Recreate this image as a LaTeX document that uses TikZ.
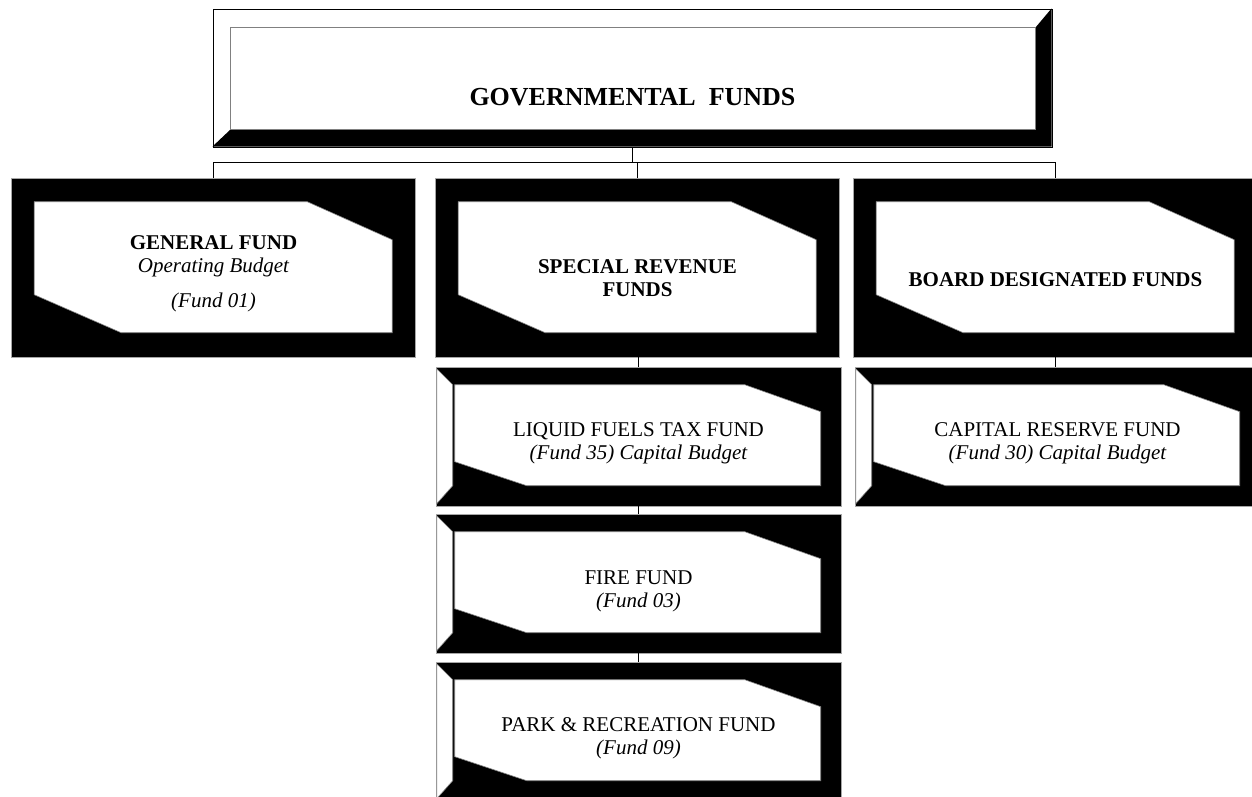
\documentclass[tikz,border=0pt]{standalone}
\usepackage{fontspec}
\setmainfont{Liberation Serif}

\newcommand{\linThick }{1pt}
\newcommand{\bevThick }{0.6pt}
\newcommand{\boxFont  }{\fontsize{21}{23}\selectfont}
\newcommand{\titleFont}{\fontsize{26}{30}\selectfont\bfseries}
\newcommand{\busDrop  }{15}

\tikzset{
  govbox/.style  ={rectangle, draw=black, fill=white, line width=\linThick, inner sep=0pt,
                   minimum width=839pt, minimum height=138pt},
  onebox/.style  ={rectangle, draw=gray!70, fill=black, line width=\bevThick, inner sep=0pt,
                   minimum width=404pt, minimum height=179pt},
  twobox/.style  ={rectangle, draw=gray!70, fill=black, line width=\bevThick, inner sep=0pt,
                   minimum width=405pt, minimum height=139pt},
  bevel/.style   ={fill=white, draw=gray, line width=\bevThick},
  fundtext/.style={align=center, inner sep=0pt, font=\boxFont},
  link/.style    ={draw=black, line width=\linThick},
}

\begin{document}
\begin{tikzpicture}[x=1pt, y=-1pt]

  \useasboundingbox (0,0) rectangle (1252,796);

  % Top box:
  \node[govbox] (govern) at (632.5, 78) {};
  \path[fill=black, shift={(govern.north west)}] (0,138) -- (18,121) -- (823,121) -- (823,19) -- (839,0) -- (839,138) -- cycle;
  \draw[gray, line width=\bevThick, shift={(govern.north west)}] (18,19) rectangle (823,121);

  % First row:
  \node[onebox] (general) at ( 213.5, 267.5) {};
  \node[onebox] (special) at ( 637.5, 267.5) {};
  \node[onebox] (board)   at (1055.5, 267.5) {};
  \foreach \b in {general,special,board}
    \path[bevel, shift={(\b.north west)}] (23,24) -- (296,24) -- (381,62) -- (381,155) -- (110,155) -- (23,117) -- cycle;

  % Second row:
  \node[twobox] (liquid)  at ( 638.5, 436.5) {};
  \node[twobox] (fire)    at ( 638.5, 583.5) {};
  \node[twobox] (park)    at ( 638.5, 731.5) {};
  \node[twobox] (capital) at (1057.5, 436.5) {};
  \foreach \b in {liquid,fire,park,capital}{
    % Side:
    \path[bevel, shift={(\b.north west)}] (1,2) -- (17,18) -- (17,119) -- (1,137) -- cycle;
    % Face:
    \path[bevel, shift={(\b.north west)}] (19,18) -- (309,18) -- (385,45) -- (385,119) -- (91,119) -- (19,95) -- cycle;
  }

  % Links:
  \draw[link] (govern.south) -- ++(0,\busDrop) coordinate (bus);
  \draw[link] (general.north) |- (bus) -| (board.north);
  \draw[link] (special.north) -- (special.north |- bus);
  \draw[link] (liquid.north)  -- (liquid.north |- special.south);
  \draw[link] (liquid.south)  -- (fire.north);
  \draw[link] (fire.south)    -- (park.north);
  \draw[link] (board.south)   -- (board.south |- capital.north);

  % Texts:
  \node[font=\titleFont] (governTxt) at ([yshift=-19.5pt]govern.center) {GOVERNMENTAL~~FUNDS};
  \node[fundtext] (generalTxt) at ([yshift=-6.5pt]general.center) {{\bfseries GENERAL FUND}\\ {\itshape Operating Budget}\\[12pt] {\itshape (Fund 01)}};
  \node[fundtext] (specialTxt) at ([yshift=-11pt]special.center)  {\bfseries SPECIAL REVENUE\\ \bfseries FUNDS};
  \node[fundtext] (boardTxt)   at ([yshift=-12pt]board.center)    {\bfseries BOARD DESIGNATED FUNDS};
  \node[fundtext] (liquidTxt)  at ([yshift=-7pt]liquid.center)    {LIQUID FUELS TAX FUND\\ {\itshape (Fund 35) Capital Budget}};
  \node[fundtext] (fireTxt)    at ([yshift=-7.5pt]fire.center)    {FIRE FUND\\ {\itshape (Fund 03)}};
  \node[fundtext] (parkTxt)    at ([yshift=-7pt]park.center)      {PARK \& RECREATION FUND\\ {\itshape (Fund 09)}};
  \node[fundtext] (capitalTxt) at ([yshift=-6.5pt]capital.center) {CAPITAL RESERVE FUND\\ {\itshape (Fund 30) Capital Budget}};

\end{tikzpicture}
\end{document}
